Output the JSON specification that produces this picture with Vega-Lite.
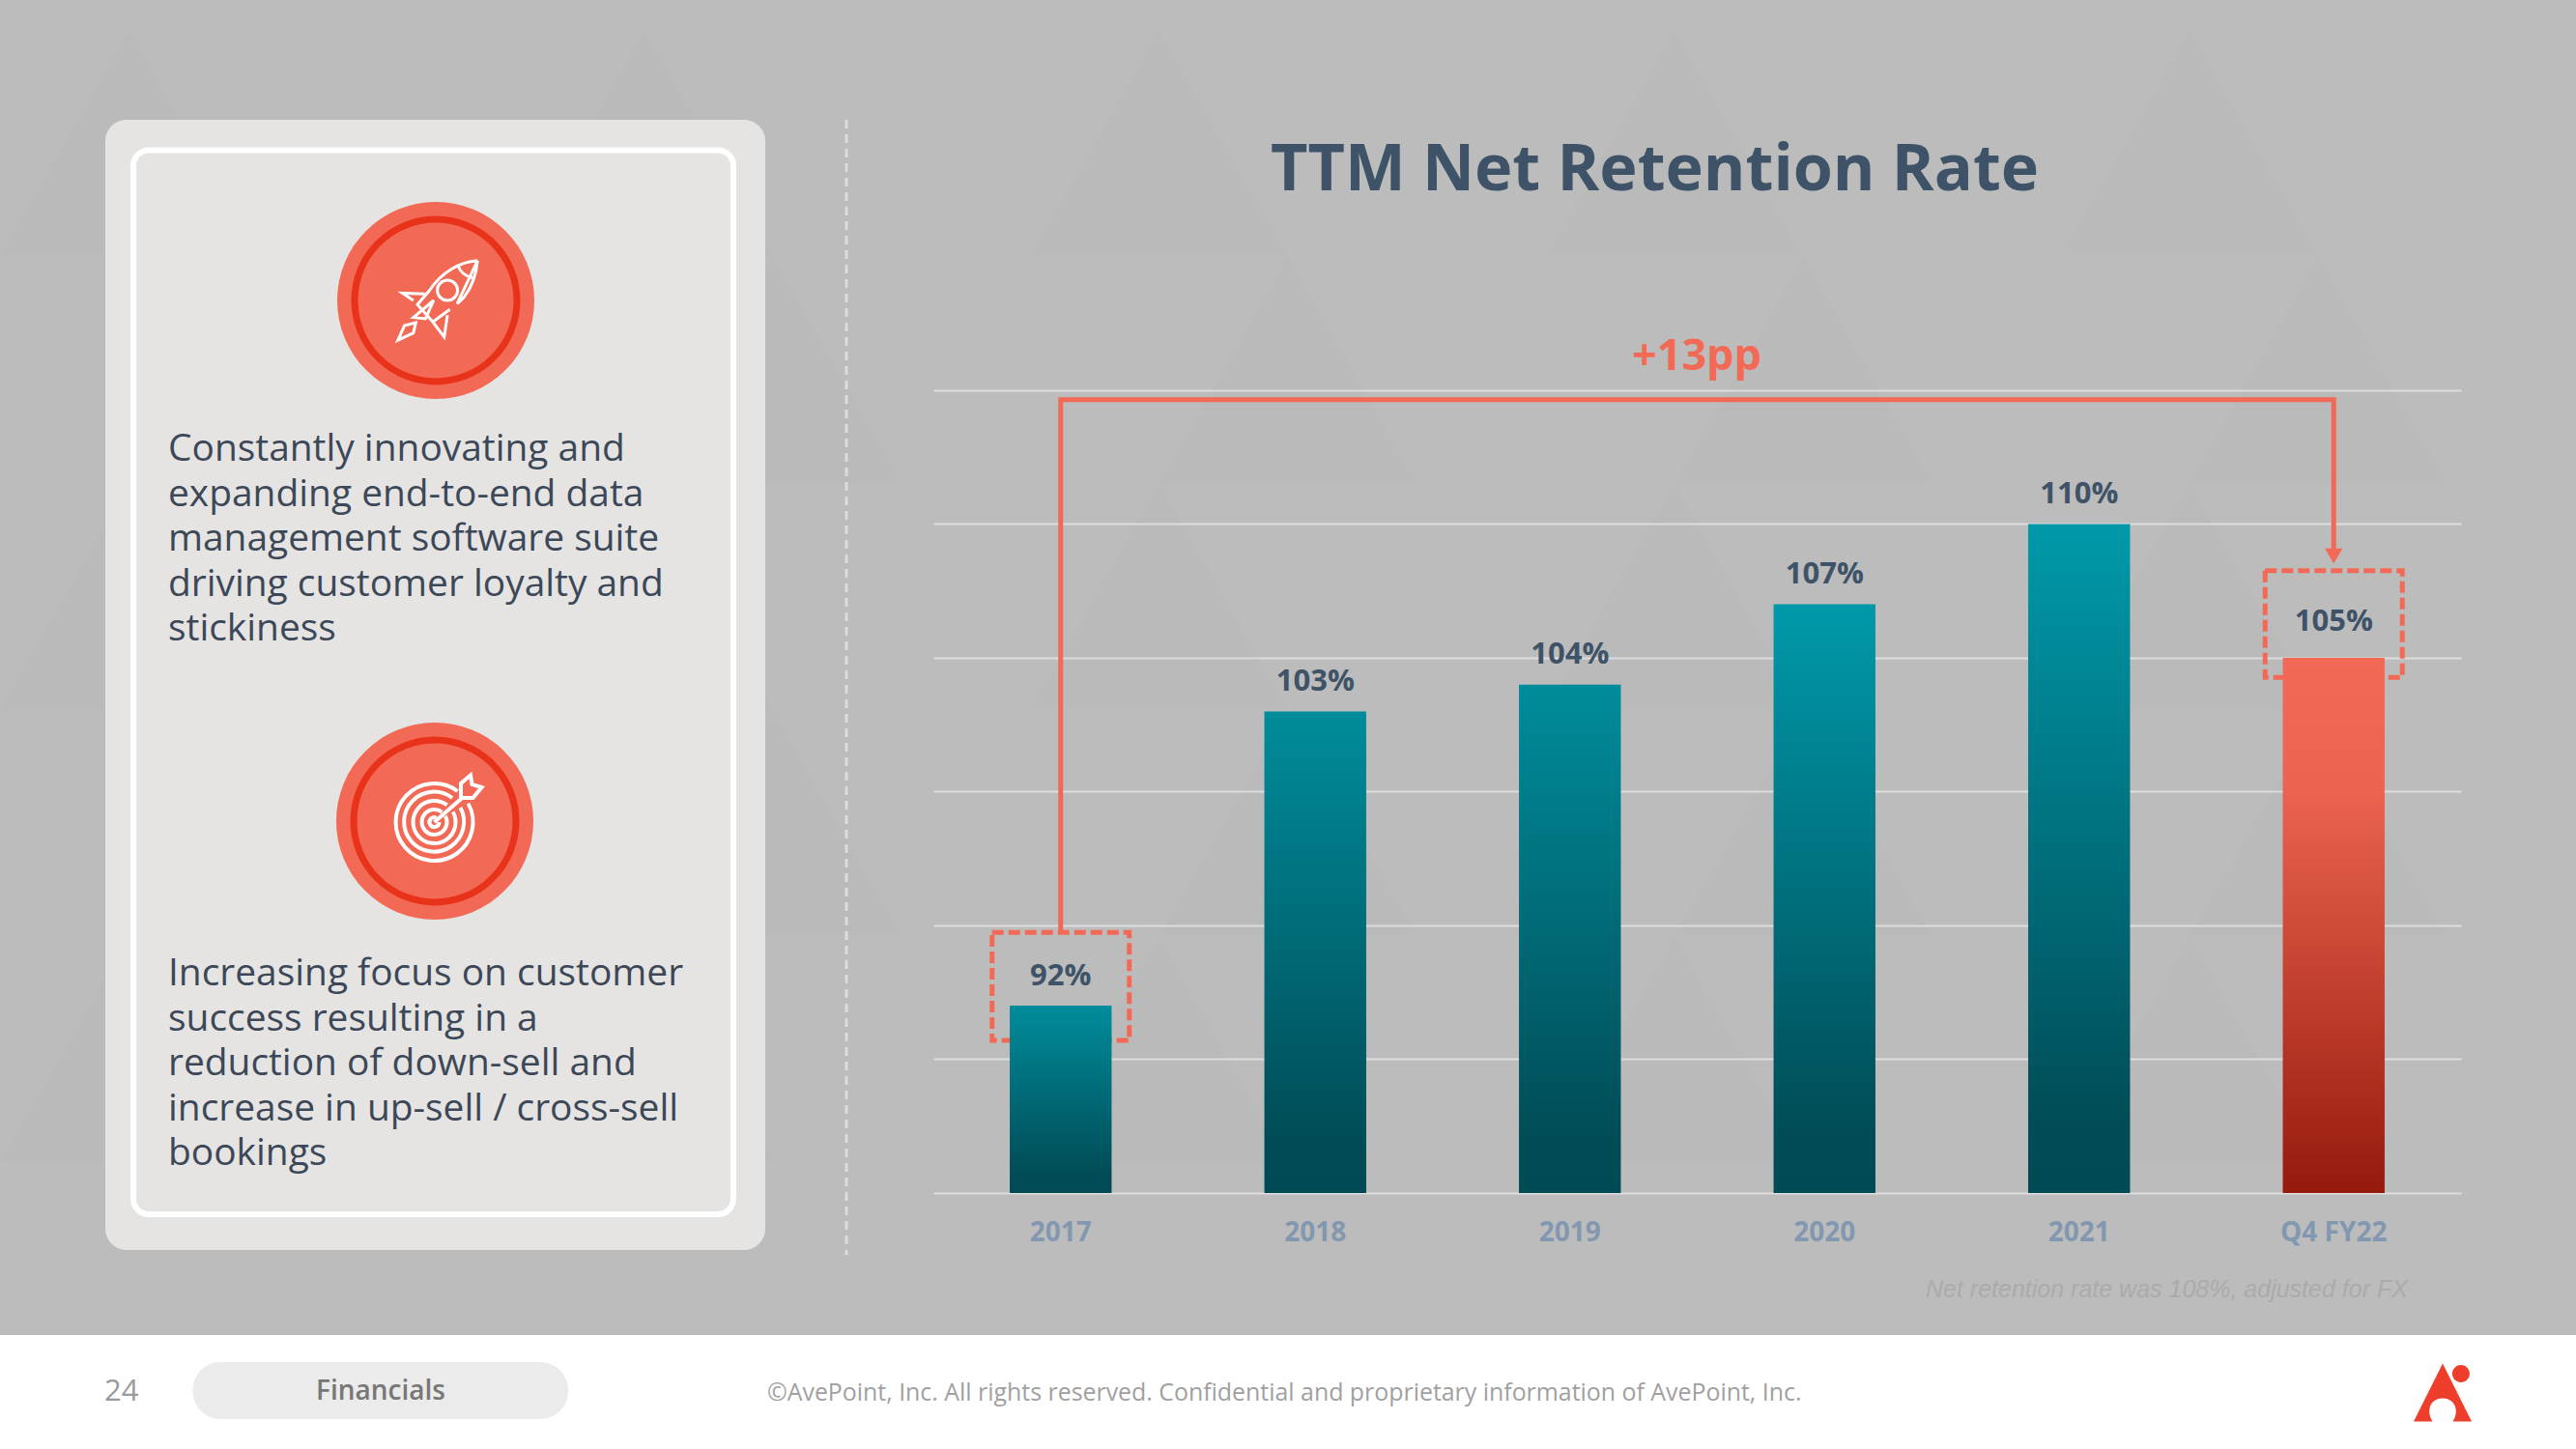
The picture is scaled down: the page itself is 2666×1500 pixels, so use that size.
{
"$schema":"https://vega.github.io/schema/vega-lite/v6.json",
"autosize":{"type":"none"},
"width":1581,"height":831,
"padding":{"left":966,"top":404,"right":119,"bottom":265},
"background":"#bcbcbc",
"config":{"view":{"stroke":null},"font":"Open Sans"},
"title":{"text":"TTM Net Retention Rate","font":"Open Sans","fontSize":66.5,"fontWeight":700,"color":"#3f5368","anchor":"middle","frame":"group","dx":-44,"offset":-180},
"datasets":{
"rates":[{"period":"2017","rate":0.92},{"period":"2018","rate":1.03},{"period":"2019","rate":1.04},{"period":"2020","rate":1.07},{"period":"2021","rate":1.10},{"period":"Q4 FY22","rate":1.05}],
"connector":[{"period":"2017","rate":0.947,"leg":1},{"period":"2017","rate":1.1465,"leg":2},{"period":"Q4 FY22","rate":1.1465,"leg":3},{"period":"Q4 FY22","rate":1.088,"leg":4}],
"boxes":[{"period":"2017","low":0.907,"high":0.9474},{"period":"Q4 FY22","low":1.0427,"high":1.0826}],
"one":[{"item":"decoration"}]
},
"data":{"name":"rates"},
"encoding":{
"x":{"field":"period","type":"nominal","scale":{"domain":["2017","2018","2019","2020","2021","Q4 FY22"],"paddingInner":0.6,"paddingOuter":0.3},"axis":{"title":null,"domain":false,"ticks":false,"labelAngle":0,"labelFont":"Open Sans","labelFontWeight":700,"labelFontSize":28,"labelColor":"#8298b0","labelPadding":27}},
"y":{"type":"quantitative","scale":{"domain":[0.85,1.15],"nice":false,"zero":false},"axis":{"title":null,"domain":false,"ticks":false,"labels":false,"grid":true,"gridColor":"#dedede","gridWidth":2,"values":[0.85,0.9,0.95,1,1.05,1.1,1.15]}}
},
"layer":[
{"data":{"name":"one"},"mark":{"type":"point","filled":true,"opacity":1,"fill":"#000000","fillOpacity":0.007,"strokeWidth":0,"size":7107556,"shape":"M-1 -.364l.1 -.176l.1 .176z M-.6 -.364l.1 -.176l.1 .176z M-.2 -.364l.1 -.176l.1 .176z M.2 -.364l.1 -.176l.1 .176z M.6 -.364l.1 -.176l.1 .176z M-.9 -.188l.1 -.176l.1 .176z M-.5 -.188l.1 -.176l.1 .176z M-.1 -.188l.1 -.176l.1 .176z M.3 -.188l.1 -.176l.1 .176z M.7 -.188l.1 -.176l.1 .176z M-1 -.012l.1 -.176l.1 .176z M-.6 -.012l.1 -.176l.1 .176z M-.2 -.012l.1 -.176l.1 .176z M.2 -.012l.1 -.176l.1 .176z M.6 -.012l.1 -.176l.1 .176z M-.9 .164l.1 -.176l.1 .176z M-.5 .164l.1 -.176l.1 .176z M-.1 .164l.1 -.176l.1 .176z M.3 .164l.1 -.176l.1 .176z M.7 .164l.1 -.176l.1 .176z M-1 .34l.1 -.176l.1 .176z M-.6 .34l.1 -.176l.1 .176z M-.2 .34l.1 -.176l.1 .176z M.2 .34l.1 -.176l.1 .176z M.6 .34l.1 -.176l.1 .176z"},"encoding":{"x":{"value":367},"y":{"value":346}}},
{"data":{"name":"one"},"mark":{"type":"rect","cornerRadius":22,"fill":"#e5e4e3"},"encoding":{"x":{"value":-857},"x2":{"value":-174},"y":{"value":-280},"y2":{"value":890}}},
{"data":{"name":"one"},"mark":{"type":"rect","cornerRadius":16,"fill":"#e5e4e3","stroke":"#ffffff","strokeWidth":6},"encoding":{"x":{"value":-828},"x2":{"value":-207},"y":{"value":-248.5},"y2":{"value":853}}},
{"data":{"name":"one"},"mark":{"type":"rule","stroke":"#dcdcdc","strokeWidth":3,"strokeDash":[9,6]},"encoding":{"x":{"value":-90},"y":{"value":-280},"y2":{"value":895}}},
{"data":{"name":"one"},"mark":{"type":"rect","fill":"#ffffff"},"encoding":{"x":{"value":-966},"x2":{"value":1700},"y":{"value":978},"y2":{"value":1096}}},
{"data":{"name":"one"},"mark":{"type":"rect","cornerRadius":29,"fill":"#ebebeb"},"encoding":{"x":{"value":-766.5},"x2":{"value":-378},"y":{"value":1006},"y2":{"value":1065}}},
{"data":{"name":"one"},"mark":{"type":"point","filled":true,"fill":"#f26a55","size":41616,"opacity":1,"strokeWidth":0},"encoding":{"x":{"value":-515},"y":{"value":-93}}},
{"data":{"name":"one"},"mark":{"type":"point","filled":false,"stroke":"#e8321a","strokeWidth":7,"size":28224,"opacity":1},"encoding":{"x":{"value":-515},"y":{"value":-93}}},
{"data":{"name":"one"},"mark":{"type":"point","filled":true,"fill":"#f26a55","size":41616,"opacity":1,"strokeWidth":0},"encoding":{"x":{"value":-516},"y":{"value":446}}},
{"data":{"name":"one"},"mark":{"type":"point","filled":false,"stroke":"#e8321a","strokeWidth":7,"size":28224,"opacity":1},"encoding":{"x":{"value":-516},"y":{"value":446}}},
{"data":{"name":"one"},"mark":{"type":"point","filled":false,"opacity":1,"stroke":"#ffffff","strokeWidth":3,"size":7056,"shape":"M0.98 -0.98 C0.55 -0.95 0.1 -0.7 -0.2 -0.25 L-0.5 0.1 L-0.12 0.53 L0.3 0.22 M0.48 0.08 L0.65 -0.08 C0.85 -0.35 0.95 -0.6 0.98 -0.98 Z M0.5 -0.86 C0.55 -0.7 0.68 -0.6 0.87 -0.55 M-0.32 -0.16 L-0.87 -0.18 L-0.6 -0.0 M0.24 0.36 L0.16 0.9 L-0.12 0.53 M0.49 -0.25 A0.25 0.25 0 1 0 -0.01 -0.25 A0.25 0.25 0 1 0 0.49 -0.25 Z M-0.98 0.98 L-0.82 0.62 L-0.54 0.55 L-0.6 0.8 Z M-0.6 0.42 L-0.1 0.0 L-0.3 0.45 Z"},"encoding":{"x":{"value":-513},"y":{"value":-93}}},
{"data":{"name":"one"},"mark":{"type":"point","filled":false,"opacity":1,"stroke":"#ffffff","strokeWidth":4,"size":10000,"shape":"M.70 -.388 A.8 .8 0 1 1 .48 -.64 M.54 -.30 A.62 .62 0 1 1 .37 -.50 M.385 -.213 A.44 .44 0 1 1 .264 -.352 M.228 -.126 A.26 .26 0 1 1 .156 -.208 M.1 0 A.1 .1 0 1 1 .04 -.09 M0 0 L0.6 -0.52 M0.55 -0.5 L0.55 -0.8 L0.75 -0.97 L0.78 -0.78 L0.98 -0.72 L0.8 -0.5 Z"},"encoding":{"x":{"value":-516.5},"y":{"value":447}}},
{"data":{"name":"one"},"mark":{"type":"point","filled":true,"opacity":1,"fill":"#ee3e2b","strokeWidth":0,"size":3600,"shape":"M0 -1 L1 1 L0.35 1 C0.6 0.6 0.4 0.2 0 0.2 C-0.4 0.2 -0.6 0.6 -0.35 1 L-1 1 Z M0.93 -0.65 A0.3 0.3 0 1 1 0.33 -0.65 A0.3 0.3 0 1 1 0.93 -0.65 Z"},"encoding":{"x":{"value":1562},"y":{"value":1037.5}}},
{"data":{"name":"one"},"mark":{"type":"text","font":"Open Sans","fontSize":38.9,"align":"left","baseline":"alphabetic","lineHeight":46.6,"color":"#3c4858"},"encoding":{"x":{"value":-792},"y":{"value":73},"text":{"value":["Constantly innovating and","expanding end-to-end data","management software suite","driving customer loyalty and","stickiness"]}}},
{"data":{"name":"one"},"mark":{"type":"text","font":"Open Sans","fontSize":38.9,"align":"left","baseline":"alphabetic","lineHeight":46.6,"color":"#3c4858"},"encoding":{"x":{"value":-792},"y":{"value":616},"text":{"value":["Increasing focus on customer","success resulting in a","reduction of down-sell and","increase in up-sell / cross-sell","bookings"]}}},
{"data":{"name":"one"},"mark":{"type":"text","font":"Open Sans","fontSize":31,"align":"left","baseline":"alphabetic","color":"#9a9a9a"},"encoding":{"x":{"value":-858},"y":{"value":1046},"text":{"value":"24"}}},
{"data":{"name":"one"},"mark":{"type":"text","font":"Open Sans","fontSize":28,"fontWeight":600,"align":"center","baseline":"alphabetic","color":"#777777"},"encoding":{"x":{"value":-572},"y":{"value":1045},"text":{"value":"Financials"}}},
{"data":{"name":"one"},"mark":{"type":"text","font":"Open Sans","fontSize":24.9,"align":"left","baseline":"alphabetic","color":"#a0a0a0"},"encoding":{"x":{"value":-172},"y":{"value":1046},"text":{"value":"©AvePoint, Inc. All rights reserved. Confidential and proprietary information of AvePoint, Inc."}}},
{"data":{"name":"one"},"mark":{"type":"text","font":"Liberation Sans","fontSize":25,"fontStyle":"italic","align":"left","baseline":"alphabetic","color":"#ababab"},"encoding":{"x":{"value":1027},"y":{"value":939},"text":{"value":"Net retention rate was 108%, adjusted for FX"}}},
{"data":{"name":"one"},"mark":{"type":"text","font":"Open Sans","fontSize":45,"fontWeight":700,"align":"center","baseline":"alphabetic","color":"#f26a55"},"encoding":{"x":{"value":790},"y":{"value":-21},"text":{"value":"+13pp"}}},
{"data":{"name":"boxes"},"mark":{"type":"bar","size":142,"fillOpacity":0,"stroke":"#f26a55","strokeWidth":5,"strokeDash":[12,5]},"encoding":{"y":{"field":"high","type":"quantitative"},"y2":{"field":"low"}}},
{"transform":[{"filter":"datum.rate < 1.05"}],"mark":{"type":"bar","fill":{"gradient":"linear","x1":0,"y1":0,"x2":0,"y2":1,"stops":[{"offset":0,"color":"#008c9b"},{"offset":0.9,"color":"#004c56"},{"offset":1,"color":"#004a54"}]}},"encoding":{"y":{"field":"rate","type":"quantitative"},"y2":{"datum":0.85}}},
{"transform":[{"filter":"datum.rate > 1.05"}],"mark":{"type":"bar","fill":{"gradient":"linear","x1":0,"y1":0,"x2":0,"y2":1,"stops":[{"offset":0,"color":"#0099aa"},{"offset":0.9,"color":"#004c56"},{"offset":1,"color":"#004a54"}]}},"encoding":{"y":{"field":"rate","type":"quantitative"},"y2":{"datum":0.85}}},
{"transform":[{"filter":"datum.period === 'Q4 FY22'"}],"mark":{"type":"bar","fill":{"gradient":"linear","x1":0,"y1":0,"x2":0,"y2":1,"stops":[{"offset":0,"color":"#f26a55"},{"offset":0.25,"color":"#ec6350"},{"offset":1,"color":"#951a0c"}]}},"encoding":{"y":{"field":"rate","type":"quantitative"},"y2":{"datum":0.85}}},
{"data":{"name":"connector"},"mark":{"type":"line","color":"#f26a55","strokeWidth":5,"strokeJoin":"miter"},"encoding":{"y":{"field":"rate","type":"quantitative"},"order":{"field":"leg"}}},
{"data":{"name":"connector"},"transform":[{"filter":"datum.leg === 4"}],"mark":{"type":"point","filled":true,"opacity":1,"shape":"triangle-down","fill":"#f26a55","size":330,"strokeWidth":0},"encoding":{"y":{"field":"rate","type":"quantitative"}}},
{"transform":[{"filter":"datum.period !== 'Q4 FY22'"}],"mark":{"type":"text","font":"Open Sans","fontSize":31,"fontWeight":700,"color":"#3f5368","baseline":"middle","dy":-30.5},"encoding":{"y":{"field":"rate","type":"quantitative"},"text":{"field":"rate","type":"quantitative","format":".0%"}}},
{"transform":[{"filter":"datum.period === 'Q4 FY22'"}],"mark":{"type":"text","font":"Open Sans","fontSize":31,"fontWeight":700,"color":"#3f5368","baseline":"middle","dy":-37},"encoding":{"y":{"field":"rate","type":"quantitative"},"text":{"field":"rate","type":"quantitative","format":".0%"}}}
]
}
